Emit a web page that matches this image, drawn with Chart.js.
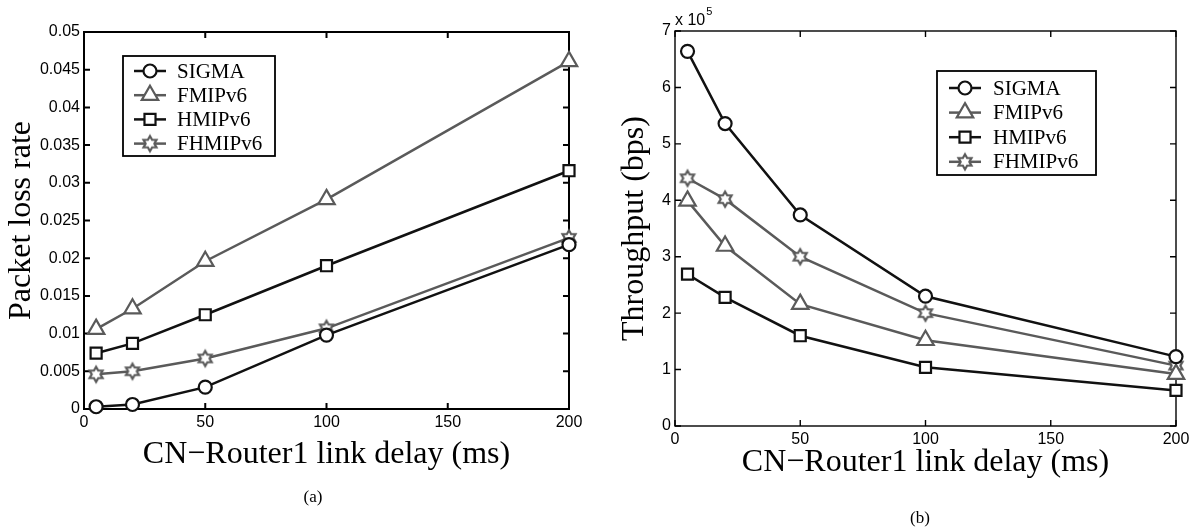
<!DOCTYPE html>
<html><head><meta charset="utf-8">
<script src="https://cdn.jsdelivr.net/npm/chart.js@4.4.1/dist/chart.umd.min.js"></script>
<style>
html,body{margin:0;padding:0;background:#fff;}
#wrap{position:relative;width:1199px;height:529px;overflow:hidden;background:#fff;}
canvas{position:absolute;top:0;}
#c1{left:0;} #c2{left:600px;}
.cap{position:absolute;font-family:"Liberation Serif",serif;font-size:17px;line-height:17px;color:#000;transform:translate(-50%,-50%);white-space:nowrap;}
.mult{position:absolute;font-family:"Liberation Sans",Arial,sans-serif;font-size:16px;line-height:16px;color:#000;white-space:nowrap;}
.mult sup{font-size:11px;line-height:11px;vertical-align:top;position:relative;top:-6px;margin-left:1px;}
</style></head><body>
<div id="wrap">
<canvas id="c1" width="600" height="529"></canvas>
<canvas id="c2" width="599" height="529"></canvas>
<div class="cap" style="left:313px;top:496px">(a)</div>
<div class="cap" style="left:920px;top:517px">(b)</div>
<div class="mult" style="left:675px;top:12px">x 10<sup>5</sup></div>
</div>
<script>
// ---------------- data ----------------
const delays = [5, 20, 50, 100, 200];               // CN-Router1 link delay (ms)
const seriesNames = ['SIGMA', 'FMIPv6', 'HMIPv6', 'FHMIPv6'];
// (a) packet loss rate
const lossSIGMA   = [0.0003, 0.0006, 0.0029, 0.0098, 0.0218];
const lossFMIPv6  = [0.0106, 0.0133, 0.0196, 0.0278, 0.0461];
const lossHMIPv6  = [0.0074, 0.0087, 0.0125, 0.0190, 0.0316];
const lossFHMIPv6 = [0.0046, 0.0050, 0.0067, 0.0107, 0.0227];
// (b) throughput, in units of 10^5 bps
const thrSIGMA   = [6.64, 5.36, 3.74, 2.30, 1.23];
const thrFMIPv6  = [3.99, 3.19, 2.16, 1.52, 0.92];
const thrHMIPv6  = [2.69, 2.28, 1.60, 1.04, 0.63];
const thrFHMIPv6 = [4.39, 4.02, 3.00, 2.00, 1.07];
const xTicksStep = 50;
const lossTickStep = 0.005;
const thrTickStep = 1;

// ---------------- styling helpers ----------------
const BLACK = '#111111', GRAY = '#5a5a5a';
function hexagram(color, r, lw) {
  const s = Math.ceil(2 * r + lw * 2 + 2);
  const c = document.createElement('canvas'); c.width = s; c.height = s;
  const g = c.getContext('2d'); const cx = s / 2, cy = s / 2;
  g.beginPath();
  for (let k = 0; k < 12; k++) {
    const ang = -Math.PI / 2 + k * Math.PI / 6;
    const rr = (k % 2 === 0) ? r : r / Math.sqrt(3);
    g.lineTo(cx + rr * Math.cos(ang), cy + rr * Math.sin(ang));
  }
  g.closePath(); g.fillStyle = '#fff'; g.fill();
  g.strokeStyle = color; g.lineWidth = lw; g.lineJoin = 'miter'; g.stroke();
  return c;
}
const starImg = hexagram(GRAY, 7.5, 2.2);
const styles = [
  {color: BLACK, style: 'circle', radius: 6.5},
  {color: GRAY, style: 'triangle', radius: 9.5},
  {color: BLACK, style: 'rect', radius: 7.8},
  {color: GRAY, style: starImg, radius: 7.5}
];
function makeDs(i, values) {
  const st = styles[i];
  return {
    label: seriesNames[i],
    data: delays.map((x, k) => ({x: x, y: values[k]})),
    borderColor: st.color, borderWidth: 2.5,
    pointStyle: st.style, pointRadius: st.radius,
    pointBorderColor: st.color, pointBackgroundColor: '#fff', pointBorderWidth: 2.2,
    fill: false, tension: 0, clip: false
  };
}

function drawMarker(ctx, st, x, y) {
  ctx.save();
  ctx.strokeStyle = st.color; ctx.fillStyle = '#fff'; ctx.lineWidth = 2.2;
  const r = st.radius;
  ctx.beginPath();
  if (st.style === 'circle') { ctx.arc(x, y, r, 0, Math.PI * 2); }
  else if (st.style === 'triangle') {
    for (let k = 0; k < 3; k++) { const a = k * 2 * Math.PI / 3; ctx.lineTo(x + Math.sin(a) * r, y - Math.cos(a) * r); }
    ctx.closePath();
  } else if (st.style === 'rect') { const h = r * Math.SQRT1_2; ctx.rect(x - h, y - h, 2 * h, 2 * h); }
  else { ctx.drawImage(st.style, x - st.style.width / 2, y - st.style.height / 2); ctx.restore(); return; }
  ctx.fill(); ctx.stroke(); ctx.restore();
}

const frameTicks = {
  id: 'frameTicks',
  beforeDatasetsDraw(chart, args, o) {
    const {ctx, chartArea: a, scales} = chart;
    ctx.save();
    ctx.strokeStyle = '#000'; ctx.lineWidth = o.width;
    ctx.beginPath();
    const L = o.len;
    scales.x.ticks.forEach((t, i) => {
      const px = scales.x.getPixelForTick(i);
      ctx.moveTo(px, a.bottom); ctx.lineTo(px, a.bottom - L);
      ctx.moveTo(px, a.top); ctx.lineTo(px, a.top + L);
    });
    scales.y.ticks.forEach((t, i) => {
      const py = scales.y.getPixelForTick(i);
      ctx.moveTo(a.left, py); ctx.lineTo(a.left + L, py);
      ctx.moveTo(a.right, py); ctx.lineTo(a.right - L, py);
    });
    ctx.stroke();
    ctx.strokeRect(a.left, a.top, a.right - a.left, a.bottom - a.top);
    ctx.restore();
  }
};

const boxLegend = {
  id: 'boxLegend',
  afterDraw(chart, args, o) {
    const {ctx} = chart;
    ctx.save();
    ctx.fillStyle = '#fff'; ctx.fillRect(o.x, o.y, o.w, o.h);
    ctx.lineWidth = 1.8; ctx.strokeStyle = '#000'; ctx.strokeRect(o.x, o.y, o.w, o.h);
    chart.data.datasets.forEach((ds, i) => {
      const y = o.y + o.first + i * o.step;
      ctx.strokeStyle = ds.borderColor; ctx.lineWidth = ds.borderWidth;
      ctx.beginPath(); ctx.moveTo(o.x + o.lx0, y); ctx.lineTo(o.x + o.lx1, y); ctx.stroke();
      drawMarker(ctx, styles[i], o.x + (o.lx0 + o.lx1) / 2, y);
      ctx.fillStyle = '#000'; ctx.font = '21px "Liberation Serif", serif';
      ctx.textBaseline = 'middle'; ctx.textAlign = 'left';
      ctx.fillText(ds.label, o.x + o.tx, y + 1);
    });
    ctx.restore();
  }
};

const tickFont = {family: '"Liberation Sans", Arial, sans-serif', size: 16};
const titleFont = {family: '"Liberation Serif", "Times New Roman", serif', size: 32};

function makeChart(id, datasets, cfg) {
  return new Chart(document.getElementById(id), {
    type: 'line',
    data: {datasets},
    plugins: [frameTicks, boxLegend],
    options: {
      responsive: false, animation: false, events: [],
      layout: {padding: cfg.padding},
      plugins: {
        legend: {display: false}, tooltip: {enabled: false},
        frameTicks: {width: cfg.frameWidth, len: 6},
        boxLegend: cfg.legend
      },
      scales: {
        x: {
          type: 'linear', min: 0, max: 200,
          ticks: {stepSize: xTicksStep, padding: 4, font: tickFont, color: '#000', maxRotation: 0, autoSkip: false},
          grid: {display: false, drawTicks: false}, border: {display: false},
          title: {display: true, text: 'CN\u2212Router1 link delay (ms)', font: titleFont, color: '#000', padding: {top: 0, bottom: cfg.xTitlePad}},
          afterFit(s) { s.height = cfg.xHeight; }
        },
        y: {
          type: 'linear', min: cfg.yMin, max: cfg.yMax,
          ticks: {stepSize: cfg.yStep, padding: 4, font: tickFont, color: '#000', autoSkip: false, maxTicksLimit: 30,
                  callback: v => String(+Number(v).toFixed(4))},
          grid: {display: false, drawTicks: false}, border: {display: false},
          title: {display: true, text: cfg.yTitle, font: titleFont, color: '#000', padding: {top: cfg.yTitlePad, bottom: 0}},
          afterFit(s) { s.width = cfg.yWidth; }
        }
      }
    }
  });
}

makeChart('c1',
  [makeDs(0, lossSIGMA), makeDs(1, lossFMIPv6), makeDs(2, lossHMIPv6), makeDs(3, lossFHMIPv6)],
  {padding: {left: 0, right: 31, top: 32, bottom: 0}, frameWidth: 2,
   xHeight: 120, xTitlePad: 55, yWidth: 84, yTitlePad: 2,
   yMin: 0, yMax: 0.05, yStep: lossTickStep, yTitle: 'Packet loss rate',
   legend: {x: 123, y: 56, w: 152, h: 100, first: 15, step: 24.2, lx0: 11, lx1: 43, tx: 54}});

makeChart('c2',
  [makeDs(0, thrSIGMA), makeDs(1, thrFMIPv6), makeDs(2, thrHMIPv6), makeDs(3, thrFHMIPv6)],
  {padding: {left: 0, right: 23, top: 31, bottom: 0}, frameWidth: 1.4,
   xHeight: 103, xTitlePad: 47, yWidth: 75, yTitlePad: 15,
   yMin: 0, yMax: 7, yStep: thrTickStep, yTitle: 'Throughput (bps)',
   legend: {x: 337, y: 71, w: 159, h: 104, first: 17, step: 24.6, lx0: 12, lx1: 44, tx: 56}});
</script>
</body></html>
